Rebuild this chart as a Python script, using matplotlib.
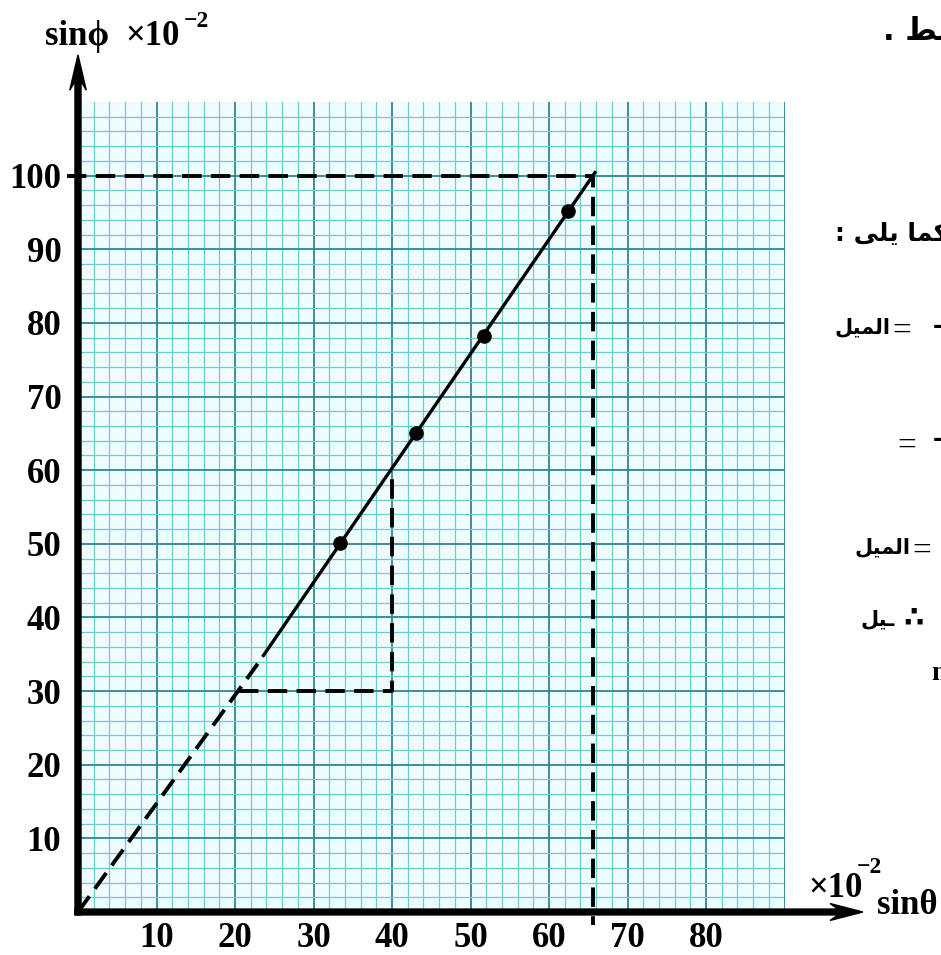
import matplotlib.pyplot as plt
import numpy as np

plt.rcParams['font.family'] = ['Liberation Serif', 'DejaVu Serif']
plt.rcParams['font.weight'] = 'bold'

# readings, both axes in units of 10^-2
sin_theta = [33.4, 43.1, 51.7, 62.4]
sin_phi = [50.1, 65.1, 78.2, 95.2]

x_ticks = [10, 20, 30, 40, 50, 60, 70, 80]
y_ticks = [10, 20, 30, 40, 50, 60, 70, 80, 90, 100]

# slope triangle and read-off level
tri_y = [30, 60]
tri_x_right = 40
read_y = 100

# arabic text, pre-shaped (presentation forms, visual order)
al_mayl = '\ufede\ufef4\ufee4\ufedf\ufe8d'
mayl_end = '\ufede\ufef4\u0640'
kama_yala = ': \ufef0\ufee0\ufef3 \ufe8e\ufee4\ufedb'
basat = '. \ufec2\ufeb3'

fig = plt.figure(figsize=(9.41, 9.55), dpi=100)
W, H = 941, 955
ax = fig.add_axes([78 / W, 43 / H, 706.5 / W, 810 / H])
ax.set_xlim(0, 90)
ax.set_ylim(0, 110)

# graph paper
ax.set_facecolor('#effcfc')
for v in np.arange(2, 90, 2):
    major = v % 10 == 0
    ax.axvline(v, color='#2f8593' if major else '#6acdd0', lw=1.3 if major else 0.9, zorder=0)
for v in np.arange(2, 110, 2):
    major = v % 10 == 0
    ax.axhline(v, color='#2f8593' if major else '#6acdd0', lw=1.3 if major else 0.9, zorder=0)
ax.axvline(90, color='#2f8593', lw=1.3, zorder=0)

# best line through the points
m, c = np.polyfit(sin_theta, sin_phi, 1)
x_solid = np.array([23.5, (read_y + 0.6 - c) / m])
x_read = (read_y - c) / m

dash = (0, (5, 2.4))
ax.plot(x_solid, m * x_solid + c, color='k', lw=2.4, zorder=3, solid_capstyle='butt')
# dashed extension back to the origin
x0 = x_solid[0] - 0.6
ax.plot([0, x0], [0, m * x0 + c], color='k', lw=2.8, ls=dash, zorder=3)

# slope triangle
x_tri_left = (tri_y[0] - c) / m
ax.plot([x_tri_left, tri_x_right, tri_x_right], [tri_y[0], tri_y[0], tri_y[1] - 0.6],
        color='k', lw=2.8, ls=dash, zorder=3)

# read-off at 100
ax.plot([-1.4, x_read, x_read], [read_y, read_y, -1.8], color='k', lw=2.8, ls=dash,
        zorder=3, clip_on=False)

ax.plot(sin_theta, sin_phi, 'o', color='k', ms=9.5, zorder=4)

# axes with arrows
ax.arrow(-0.4, 0, 100.4, 0, width=0.8, head_width=2.3, head_length=4.2, overhang=0.25,
         length_includes_head=True, color='k', clip_on=False, zorder=6)
ax.arrow(0, -0.4, 0, 116.8, width=0.77, head_width=2.1, head_length=4.8, overhang=0.25,
         length_includes_head=True, color='k', clip_on=False, zorder=6)

for s in ax.spines.values():
    s.set_visible(False)
ax.set_xticks(x_ticks)
ax.set_yticks(y_ticks)
ax.set_xticklabels([str(t) for t in x_ticks])
ax.set_yticklabels([str(t) for t in y_ticks])
ax.tick_params(length=0, labelsize=25)
ax.tick_params(axis='x', pad=7)
ax.tick_params(axis='y', pad=12)

def px(x, y, s, size=25, **kw):
    fig.text(x / W, 1 - y / H, s, fontsize=size, fontweight='bold', va='baseline', **kw)

# axis titles
px(45, 45, 'sin\u03d5')
px(125, 45, '\u00d710')
px(184, 27, '\u22122', size=17)
px(808, 897, '\u00d710')
px(857, 873, '\u22122', size=17)
px(877, 914, 'sin\u03b8')

# cut-off text of the page on the right
ar = dict(family=['DejaVu Sans'])
eq = dict(family=['Liberation Serif'], fontweight='normal', va='center')
px(883, 40, basat, size=22, **ar)
px(835, 241, kama_yala, size=18, **ar)
px(835, 333, al_mayl, size=15, **ar)
fig.text(892 / W, 1 - 331 / H, '=', fontsize=24, **eq)
px(933, 333, '\u2013', size=17, **ar)
fig.text(897 / W, 1 - 446 / H, '=', fontsize=24, **eq)
px(933, 446, '\u2013', size=17, **ar)
px(855, 553, al_mayl, size=15, **ar)
fig.text(912 / W, 1 - 551 / H, '=', fontsize=24, **eq)
px(860, 625, mayl_end, size=15, **ar)
px(903, 627, '\u2234', size=21, **ar)
px(931, 680, 'm', size=20)

fig.savefig('out.png', dpi=100)
